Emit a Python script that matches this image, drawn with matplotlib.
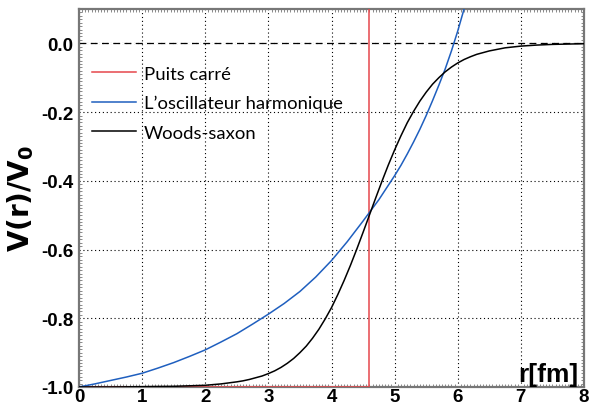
import matplotlib
matplotlib.use("Agg")
import matplotlib.pyplot as plt
from matplotlib.ticker import MultipleLocator, FormatStrFormatter

plt.rcParams['axes.unicode_minus'] = False

# puits carré : fond à -1 jusqu'au rayon R, puis remonte
r_carre = [0.0, 4.6, 4.6]
v_carre = [-1.0, -1.0, 0.2]

# oscillateur harmonique
r_osc = [0.0, 0.25, 0.5, 0.75, 1.0, 1.25, 1.5, 1.75, 2.0, 2.25, 2.5, 2.75,
         3.0, 3.25, 3.5, 3.75, 4.0, 4.25, 4.5, 4.75, 5.0, 5.1, 5.2, 5.3,
         5.4, 5.5, 5.6, 5.7, 5.8, 5.9, 6.0, 6.1, 6.2]
v_osc = [-1.000, -0.991, -0.981, -0.971, -0.960, -0.945, -0.929, -0.911,
         -0.892, -0.869, -0.845, -0.817, -0.788, -0.757, -0.722, -0.680,
         -0.632, -0.577, -0.517, -0.455, -0.385, -0.355, -0.322, -0.287,
         -0.250, -0.210, -0.167, -0.122, -0.075, -0.022, 0.036, 0.100, 0.170]

# Woods-Saxon
r_ws = [0.0, 0.5, 1.0, 1.5, 2.0, 2.25, 2.5, 2.6, 2.7, 2.8, 2.9, 3.0, 3.1,
        3.2, 3.3, 3.4, 3.5, 3.6, 3.7, 3.8, 3.9, 4.0, 4.1, 4.2, 4.3, 4.4,
        4.5, 4.6, 4.7, 4.8, 4.9, 5.0, 5.1, 5.2, 5.3, 5.4, 5.5, 5.6, 5.7,
        5.8, 5.9, 6.0, 6.1, 6.2, 6.3, 6.4, 6.5, 6.75, 7.0, 7.25, 7.5, 8.0]
v_ws = [-1.000, -1.000, -0.999, -0.998, -0.995, -0.991, -0.985, -0.982,
        -0.978, -0.973, -0.968, -0.961, -0.953, -0.943, -0.931, -0.917,
        -0.900, -0.881, -0.858, -0.832, -0.802, -0.769, -0.731, -0.690,
        -0.646, -0.599, -0.550, -0.500, -0.450, -0.401, -0.354, -0.310,
        -0.269, -0.231, -0.198, -0.168, -0.142, -0.119, -0.100, -0.083,
        -0.069, -0.057, -0.047, -0.039, -0.032, -0.027, -0.022, -0.013,
        -0.008, -0.005, -0.003, -0.001]

labels = [u"Puits carré", u"L\u2019oscillateur harmonique", u"Woods-saxon"]

fig = plt.figure(figsize=(5.89, 4.10), dpi=100)
ax = fig.add_axes([79/589., 22/410., 505/589., 378/410.])

ax.plot(r_carre, v_carre, color='#e5474b', lw=1.1, label=labels[0], zorder=3)
ax.plot(r_osc, v_osc, color='#1f5fbf', lw=1.1, label=labels[1], zorder=3)
ax.plot(r_ws, v_ws, color='k', lw=1.1, label=labels[2], zorder=4)
# ligne V=0 en tirets (les trous en blanc cachent la grille pointillée)
ax.axhline(0.0, color='k', lw=0.9, ls=(0, (5.5, 3.5)), gapcolor='white',
           zorder=2)

ax.set_xlim(0, 8)
ax.set_ylim(-1.0, 0.1)
ax.xaxis.set_major_locator(MultipleLocator(1))
ax.yaxis.set_major_locator(MultipleLocator(0.2))
ax.yaxis.set_major_formatter(FormatStrFormatter('%.1f'))
ax.xaxis.set_minor_locator(MultipleLocator(0.05))
ax.yaxis.set_minor_locator(MultipleLocator(0.01))
ax.grid(True, which='major', color='k', lw=0.8, ls=(0, (1, 2.5)))

ax.tick_params(which='both', direction='in', top=True, right=True,
               color='#777777')
ax.tick_params(which='major', length=0, pad=4)
ax.tick_params(which='minor', length=2, width=0.6)
for lab in ax.get_xticklabels() + ax.get_yticklabels():
    lab.set_fontfamily('Liberation Sans')
    lab.set_fontweight('bold')
    lab.set_fontsize(13.5)
ax.tick_params(axis='x', pad=1)

for s in ax.spines.values():
    s.set_color('#777777')
    s.set_linewidth(1.6)

ax.set_ylabel(r"$\mathbf{V(r)/V_0}$", fontsize=20, family='Liberation Sans',
              fontweight='bold', labelpad=4)
ax.text(0.988, 0.003, "r[fm]", transform=ax.transAxes, ha='right',
        va='bottom', fontsize=19, fontweight='bold', family='Liberation Sans')

leg = ax.legend(loc='upper left', bbox_to_anchor=(0.026, 0.85), frameon=False,
                prop={'family': 'Lato', 'size': 13.3}, handlelength=2.4,
                handletextpad=0.4, labelspacing=0.72, borderpad=0,
                borderaxespad=0)

fig.savefig("out.png", dpi=100)
